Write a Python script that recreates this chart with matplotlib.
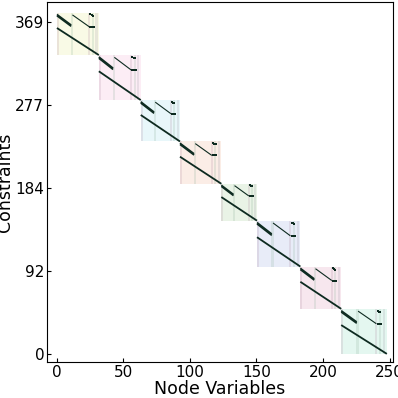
import matplotlib
matplotlib.use("Agg")
import matplotlib.pyplot as plt
from matplotlib.patches import Rectangle

# block structure of the constraint matrix (columns = node variables)
block_x = [0, 31.5, 63, 92.5, 123.6, 150.4, 183, 213.7, 248]
block_top = [379, 332, 282, 236, 189, 148, 97, 50]
block_bottom = [332, 282, 236, 189, 148, 97, 50, 0]
block_colors = ["#f7f8dc", "#fbe6f2", "#dff4f8", "#fae6dc",
                "#e0efdc", "#dfe4f6", "#f5dde7", "#d9f5ea"]

# variable groups inside each block (fraction of block width)
group_lo = [0.0, 0.33, 0.74, 0.83, 0.92]
group_hi = [0.05, 0.39, 0.79, 0.88, 0.97]
group_colors = ["#b08aa0", "#8ab09a", "#b08aa0", "#8ab09a", "#a09aa8"]

# nonzero bands inside each block: (x_start, y_start, x_end, y_end) as fractions
bands = [
    (0.00, 0.04, 0.34, 0.29),   # dense band, row 1
    (0.00, 0.07, 0.34, 0.32),   # dense band, row 2
    (0.37, 0.05, 0.77, 0.33),   # coupling band
    (0.00, 0.36, 1.00, 1.00),   # long diagonal
]
band_widths = [1.2, 1.2, 0.8, 1.3]
dots_x = [0.80, 0.83, 0.86, 0.80, 0.84, 0.88]
dots_y = [0.04, 0.06, 0.07, 0.33, 0.33, 0.33]

yticks = [0, 92, 184, 277, 369]
xticks = [0, 50, 100, 150, 200, 250]

fig = plt.figure(figsize=(3.98, 3.98), dpi=100)
ax = fig.add_axes([0.118, 0.0905, 0.869, 0.9045])

line_color = "#0d2a20"
for i in range(len(block_top)):
    x0, x1 = block_x[i], block_x[i + 1]
    top, bot = block_top[i], block_bottom[i]
    w, h = x1 - x0, top - bot
    ax.add_patch(Rectangle((x0, bot), w, h, facecolor=block_colors[i],
                           edgecolor="none", alpha=0.7, zorder=1))
    for lo, hi, c in zip(group_lo, group_hi, group_colors):
        ax.add_patch(Rectangle((x0 + lo * w, bot), (hi - lo) * w, h,
                               facecolor=c, edgecolor="none", alpha=0.2,
                               zorder=2))
    for (fx0, fy0, fx1, fy1), lw in zip(bands, band_widths):
        ax.plot([x0 + fx0 * w, x0 + fx1 * w], [top - fy0 * h, top - fy1 * h],
                color=line_color, lw=lw, solid_capstyle="butt", zorder=3)
    ax.scatter([x0 + f * w for f in dots_x], [top - f * h for f in dots_y],
               s=0.8, color=line_color, marker="s", linewidths=0, zorder=3)

ax.set_xlim(-7.5, 252.5)
ax.set_ylim(-9, 391)
ax.set_xticks(xticks)
ax.set_yticks(yticks)
ax.tick_params(direction="in", labelsize=11, length=3, pad=2)
ax.set_xlabel("Node Variables", fontsize=12.5, labelpad=0)
ax.set_ylabel("Constraints", fontsize=12.5, labelpad=1)

fig.savefig("out.png", dpi=100)
plt.close(fig)
